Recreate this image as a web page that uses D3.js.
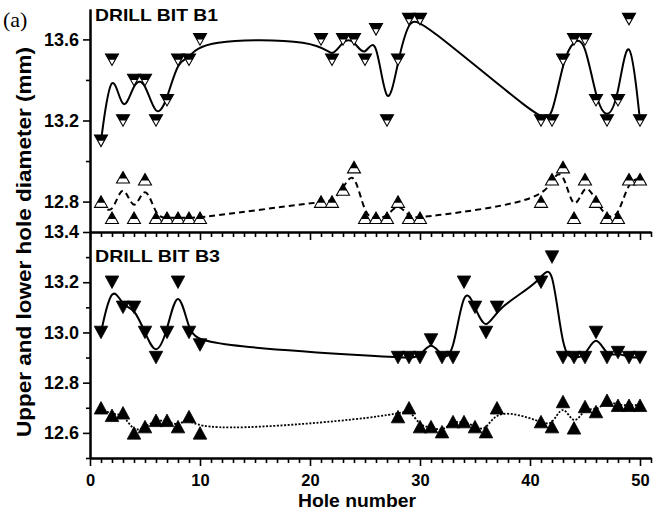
<!DOCTYPE html>
<html><head><meta charset="utf-8">
<script src="https://cdn.jsdelivr.net/npm/d3@7"></script>
<style>body{margin:0;background:#fff}svg{display:block}</style>
</head><body>
<svg id="c" width="664" height="519"></svg>
<script>
// ---- data ----
const holesB1 = [1,2,3,4,5,6,7,8,9,10, 21,22,23,24,25,26,27,28,29,30, 41,42,43,44,45,46,47,48,49,50];
const b1Upper = [13.1,13.5,13.2,13.4,13.4,13.2,13.3,13.5,13.5,13.6, 13.6,13.5,13.6,13.6,13.5,13.65,13.2,13.5,13.7,13.7, 13.2,13.2,13.5,13.6,13.6,13.3,13.2,13.3,13.7,13.2];
const b1Lower = [12.8,12.72,12.92,12.72,12.91,12.72,12.72,12.72,12.72,12.72, 12.8,12.8,12.86,12.97,12.72,12.72,12.72,12.8,12.72,12.72, 12.8,12.91,12.97,12.72,12.91,12.8,12.72,12.72,12.91,12.91];
const holesB3 = [1,2,3,4,5,6,7,8,9,10, 28,29,30,31,32,33,34,35,36,37, 41,42,43,44,45,46,47,48,49,50];
const b3Upper = [13.0,13.2,13.1,13.1,13.0,12.9,13.0,13.2,13.0,12.95, 12.9,12.9,12.9,12.97,12.9,12.9,13.2,13.1,13.0,13.1, 13.2,13.3,12.9,12.9,12.9,13.0,12.9,12.92,12.9,12.9];
const b3Lower = [12.7,12.67,12.68,12.6,12.625,12.65,12.65,12.625,12.665,12.6, 12.665,12.7,12.625,12.625,12.605,12.645,12.645,12.625,12.605,12.7, 12.645,12.625,12.725,12.62,12.705,12.685,12.73,12.71,12.71,12.71];
const xMajorTicks = [0,10,20,30,40,50];
const xMinorTicks = [1,2,3,4,5,6,7,8,9,11,12,13,14,15,16,17,18,19,21,22,23,24,25,26,27,28,29,31,32,33,34,35,36,37,38,39,41,42,43,44,45,46,47,48,49,51];
const yTopMajor = [12.8,13.2,13.6];
const yTopMinor = [13.0,13.4];
const yBotMajor = [12.6,12.8,13.0,13.2,13.4];
const yBotMinor = [12.5,12.7,12.9,13.1,13.3];
const titles = ["DRILL BIT B1","DRILL BIT B3"];

// ---- layout ----
const FONT = "'Liberation Sans', Arial, Helvetica, sans-serif";
const svg = d3.select("#c");
const x = d3.scaleLinear().domain([0,51]).range([90,651]);
const yTop = d3.scaleLinear().domain([12.65,13.75]).range([232,9]);
const yBot = d3.scaleLinear().domain([12.5,13.4]).range([458,232]);

function styleAxis(g, fs){
  g.selectAll("path.domain").attr("stroke","#000").attr("stroke-width",2);
  g.selectAll(".tick line").attr("stroke","#000").attr("stroke-width",1.6);
  g.selectAll(".tick text").attr("fill","#000").attr("font-family",FONT)
    .attr("font-weight","bold").attr("font-size",fs);
}

// lines first
function drawLine(holes, vals, y, dash, w){
  const pts = holes.map((h,i)=>({h, v: vals[i]}));
  svg.append("path").datum(pts)
    .attr("d", d3.line().x(d=>x(d.h)).y(d=>y(d.v)).curve(d3.curveBasis))
    .attr("fill","none").attr("stroke","#000").attr("stroke-width",w)
    .attr("stroke-dasharray", dash);
}
drawLine(holesB1, b1Upper, yTop, null, 2);
drawLine(holesB1, b1Lower, yTop, "6,4", 2);
drawLine(holesB3, b3Upper, yBot, null, 2);
drawLine(holesB3, b3Lower, yBot, "2,1.6", 1.8);

// axes
// top panel y
let g = svg.append("g").attr("transform","translate(90,0)")
  .call(d3.axisLeft(yTop).tickValues(yTopMajor).tickSize(7).tickSizeOuter(0).tickPadding(4).tickFormat(d3.format(".1f")));
styleAxis(g, 18);
g = svg.append("g").attr("transform","translate(90,0)")
  .call(d3.axisLeft(yTop).tickValues(yTopMinor).tickSize(4).tickSizeOuter(0).tickFormat(""));
styleAxis(g, 18);
// bottom panel y
g = svg.append("g").attr("transform","translate(90,0)")
  .call(d3.axisLeft(yBot).tickValues(yBotMajor).tickSize(7).tickSizeOuter(0).tickPadding(4).tickFormat(d3.format(".1f")));
styleAxis(g, 18);
g = svg.append("g").attr("transform","translate(90,0)")
  .call(d3.axisLeft(yBot).tickValues(yBotMinor).tickSize(4).tickSizeOuter(0).tickFormat(""));
styleAxis(g, 18);
// x axes
[232, 458].forEach((yy, k)=>{
  let a = svg.append("g").attr("transform",`translate(0,${yy})`)
    .call(d3.axisBottom(x).tickValues(xMajorTicks).tickSize(8).tickSizeOuter(0).tickPadding(8)
      .tickFormat(k===1 ? d3.format("d") : ""));
  styleAxis(a, 16.5);
  a = svg.append("g").attr("transform",`translate(0,${yy})`)
    .call(d3.axisBottom(x).tickValues(xMinorTicks).tickSize(5).tickSizeOuter(0).tickFormat(""));
  styleAxis(a, 16.5);
});

// markers
function triPath(dir, w, h){
  return dir === "down"
    ? `M${-w/2},${-h/2}L${w/2},${-h/2}L0,${h/2}Z`
    : `M0,${-h/2}L${w/2},${h/2}L${-w/2},${h/2}Z`;
}
function halfPath(dir, w, h){
  if (dir === "down") return `M${-w/2},${-h/2}L${w/2},${-h/2}L${w/4},0L${-w/4},0Z`;
  const s = 0.1*h; const f = (s + h/2)/h; // fraction of height from apex
  return `M0,${-h/2}L${f*w/2},${s}L${-f*w/2},${s}Z`;
}
function drawMarkers(holes, vals, y, dir, half){
  const w = half ? 13 : 13.5, h = half ? 11.5 : 12.5;
  const grp = svg.append("g");
  const m = grp.selectAll("g").data(holes.map((hh,i)=>({h:hh, v:vals[i]}))).join("g")
    .attr("transform", d=>`translate(${x(d.h)},${y(d.v)})`);
  if (half){
    m.append("path").attr("d", triPath(dir,w,h)).attr("fill","#fff").attr("stroke","#000").attr("stroke-width",1.1);
    m.append("path").attr("d", halfPath(dir,w,h)).attr("fill","#000");
  } else {
    m.append("path").attr("d", triPath(dir,w,h)).attr("fill","#000").attr("stroke","#000").attr("stroke-width",0.8);
  }
}
drawMarkers(holesB1, b1Upper, yTop, "down", true);
drawMarkers(holesB1, b1Lower, yTop, "up", true);
drawMarkers(holesB3, b3Upper, yBot, "down", false);
drawMarkers(holesB3, b3Lower, yBot, "up", false);

// texts
svg.append("text").attr("x",95).attr("y",21).text(titles[0])
  .attr("font-family",FONT).attr("font-weight","bold").attr("font-size",16.5)
  .attr("textLength",123).attr("lengthAdjust","spacingAndGlyphs");
svg.append("text").attr("x",95).attr("y",261.5).text(titles[1])
  .attr("font-family",FONT).attr("font-weight","bold").attr("font-size",16.5)
  .attr("textLength",125).attr("lengthAdjust","spacingAndGlyphs");
svg.append("text").attr("x",3).attr("y",27).text("(a)")
  .attr("font-family","'Liberation Serif', 'Times New Roman', serif").attr("font-size",22);
svg.append("text").attr("x",357).attr("y",507).attr("text-anchor","middle").text("Hole number")
  .attr("font-family",FONT).attr("font-weight","bold").attr("font-size",18.5)
  .attr("textLength",118).attr("lengthAdjust","spacingAndGlyphs");
svg.append("text").attr("transform","translate(31,242) rotate(-90)").attr("text-anchor","middle")
  .text("Upper and lower hole diameter (mm)")
  .attr("font-family",FONT).attr("font-weight","bold").attr("font-size",21)
  .attr("textLength",390).attr("lengthAdjust","spacingAndGlyphs");
</script>
</body></html>
